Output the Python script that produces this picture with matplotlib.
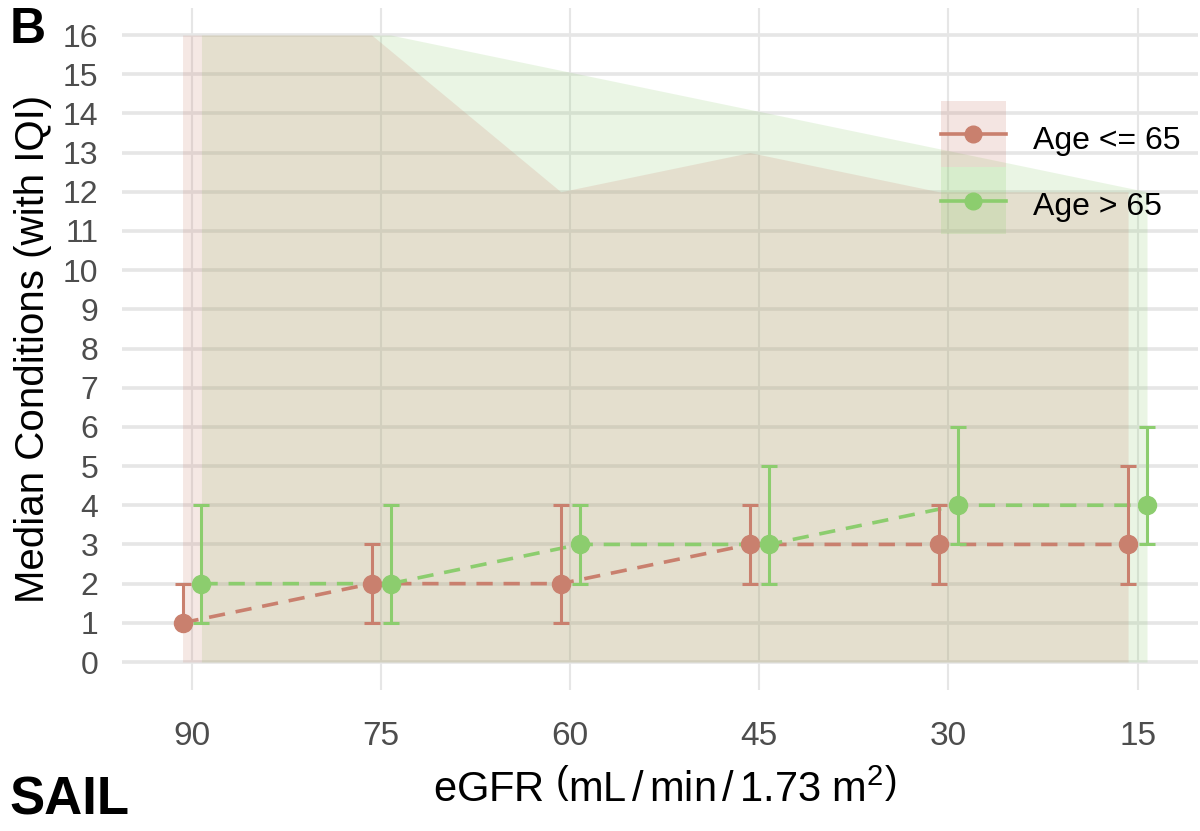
import numpy as np
import matplotlib
matplotlib.use('Agg')
import matplotlib.pyplot as plt
from matplotlib.patches import Rectangle
from matplotlib.lines import Line2D
from matplotlib.legend_handler import HandlerBase

# eGFR bands (shown left to right, high to low)
egfr = ['90', '75', '60', '45', '30', '15']

# Age <= 65
young_med = [1, 2, 2, 3, 3, 3]
young_q1 = [1, 1, 1, 2, 2, 2]
young_q3 = [2, 3, 4, 4, 4, 5]
young_min = [0, 0, 0, 0, 0, 0]
young_max = [16, 16, 12, 13, 12, 12]

# Age > 65
old_med = [2, 2, 3, 3, 4, 4]
old_q1 = [1, 1, 2, 2, 3, 3]
old_q3 = [4, 4, 4, 5, 6, 6]
old_min = [0, 0, 0, 0, 0, 0]
old_max = [16, 16, 15, 14, 13, 12]

red = '#C9806E'
green = '#8CCD6E'

plt.rcParams['font.family'] = ['Liberation Sans', 'DejaVu Sans']
plt.rcParams['mathtext.fontset'] = 'custom'
plt.rcParams['mathtext.rm'] = 'Liberation Sans'
plt.rcParams['mathtext.it'] = 'Liberation Sans'

fig = plt.figure(figsize=(12, 8.31), dpi=100)
ax = fig.add_axes([0.1017, 0.1697, 0.8967, 0.8207])

x = np.arange(len(egfr))
dodge = 0.05

groups = [
    ('Age <= 65', red, x - dodge, young_med, young_q1, young_q3, young_min, young_max),
    ('Age > 65', green, x + dodge, old_med, old_q1, old_q3, old_min, old_max),
]

# green range underneath, red on top (gives the beige overlap)
for label, col, xs, med, q1, q3, lo, hi in groups[::-1]:
    ax.fill_between(xs, lo, hi, color=col, alpha=0.18, lw=0, zorder=1)

for label, col, xs, med, q1, q3, lo, hi in groups:
    ax.plot(xs, med, ls=(0, (4.5, 3)), color=col, lw=2.6, zorder=2)

for label, col, xs, med, q1, q3, lo, hi in groups:
    med = np.array(med)
    err = [med - np.array(q1), np.array(q3) - med]
    ax.errorbar(xs, med, yerr=err, fmt='o', color=col, ms=13, elinewidth=2.2,
                capsize=6, capthick=2.2, zorder=3)

ax.set_xlim(-0.37, 5.32)
ax.set_ylim(-0.714, 16.69)
ax.set_xticks(x)
ax.set_xticklabels(egfr)
ax.set_yticks(range(0, 17))
ax.tick_params(length=0, labelsize=23, colors='#4D4D4D')
ax.tick_params(axis='y', pad=17)
ax.tick_params(axis='x', pad=22, labelsize=24)
for s in ax.spines.values():
    s.set_visible(False)
ax.set_axisbelow(True)
ax.grid(axis='y', color='#E6E6E6', lw=2.6)
ax.grid(axis='x', color='#E6E6E6', lw=1.5)

ax.set_ylabel('Median Conditions (with IQI)', fontsize=29, labelpad=8)
fig.text(0.554, 0.048, r'eGFR $\left(\mathrm{mL\,/\,min\,/\,1.73\ m^{2}}\right)$',
         fontsize=30, ha='center', va='center')


# legend key: shaded box + solid line + point, like ggplot
class KeyHandler(HandlerBase):
    def create_artists(self, legend, orig_handle, xdescent, ydescent, width, height,
                       fontsize, trans):
        col = orig_handle.get_color()
        cy = 0.45 * fontsize
        box = Rectangle((-xdescent, cy - height / 2), width, height, facecolor=col,
                        alpha=0.2, lw=0, transform=trans)
        line = Line2D([-xdescent, width - xdescent], [cy, cy], color=col, lw=2.6,
                      transform=trans)
        dot = Line2D([width / 2 - xdescent], [cy], marker='o', ms=12, color=col,
                     lw=0, transform=trans)
        return [box, line, dot]


handles = [Line2D([], [], color=g[1]) for g in groups]
ax.legend(handles, [g[0] for g in groups], handler_map={Line2D: KeyHandler()},
          loc='upper left', bbox_to_anchor=(0.746, 0.880), borderpad=0, frameon=False,
          fontsize=23, handlelength=2.05, handleheight=2.83, labelspacing=0,
          handletextpad=0.85)

fig.text(0.008, 0.964, 'B', fontsize=36, fontweight='bold', va='center', ha='left')
fig.text(0.008, 0.037, 'SAIL', fontsize=38, fontweight='bold', va='center', ha='left')

fig.savefig('out.png', dpi=100)
